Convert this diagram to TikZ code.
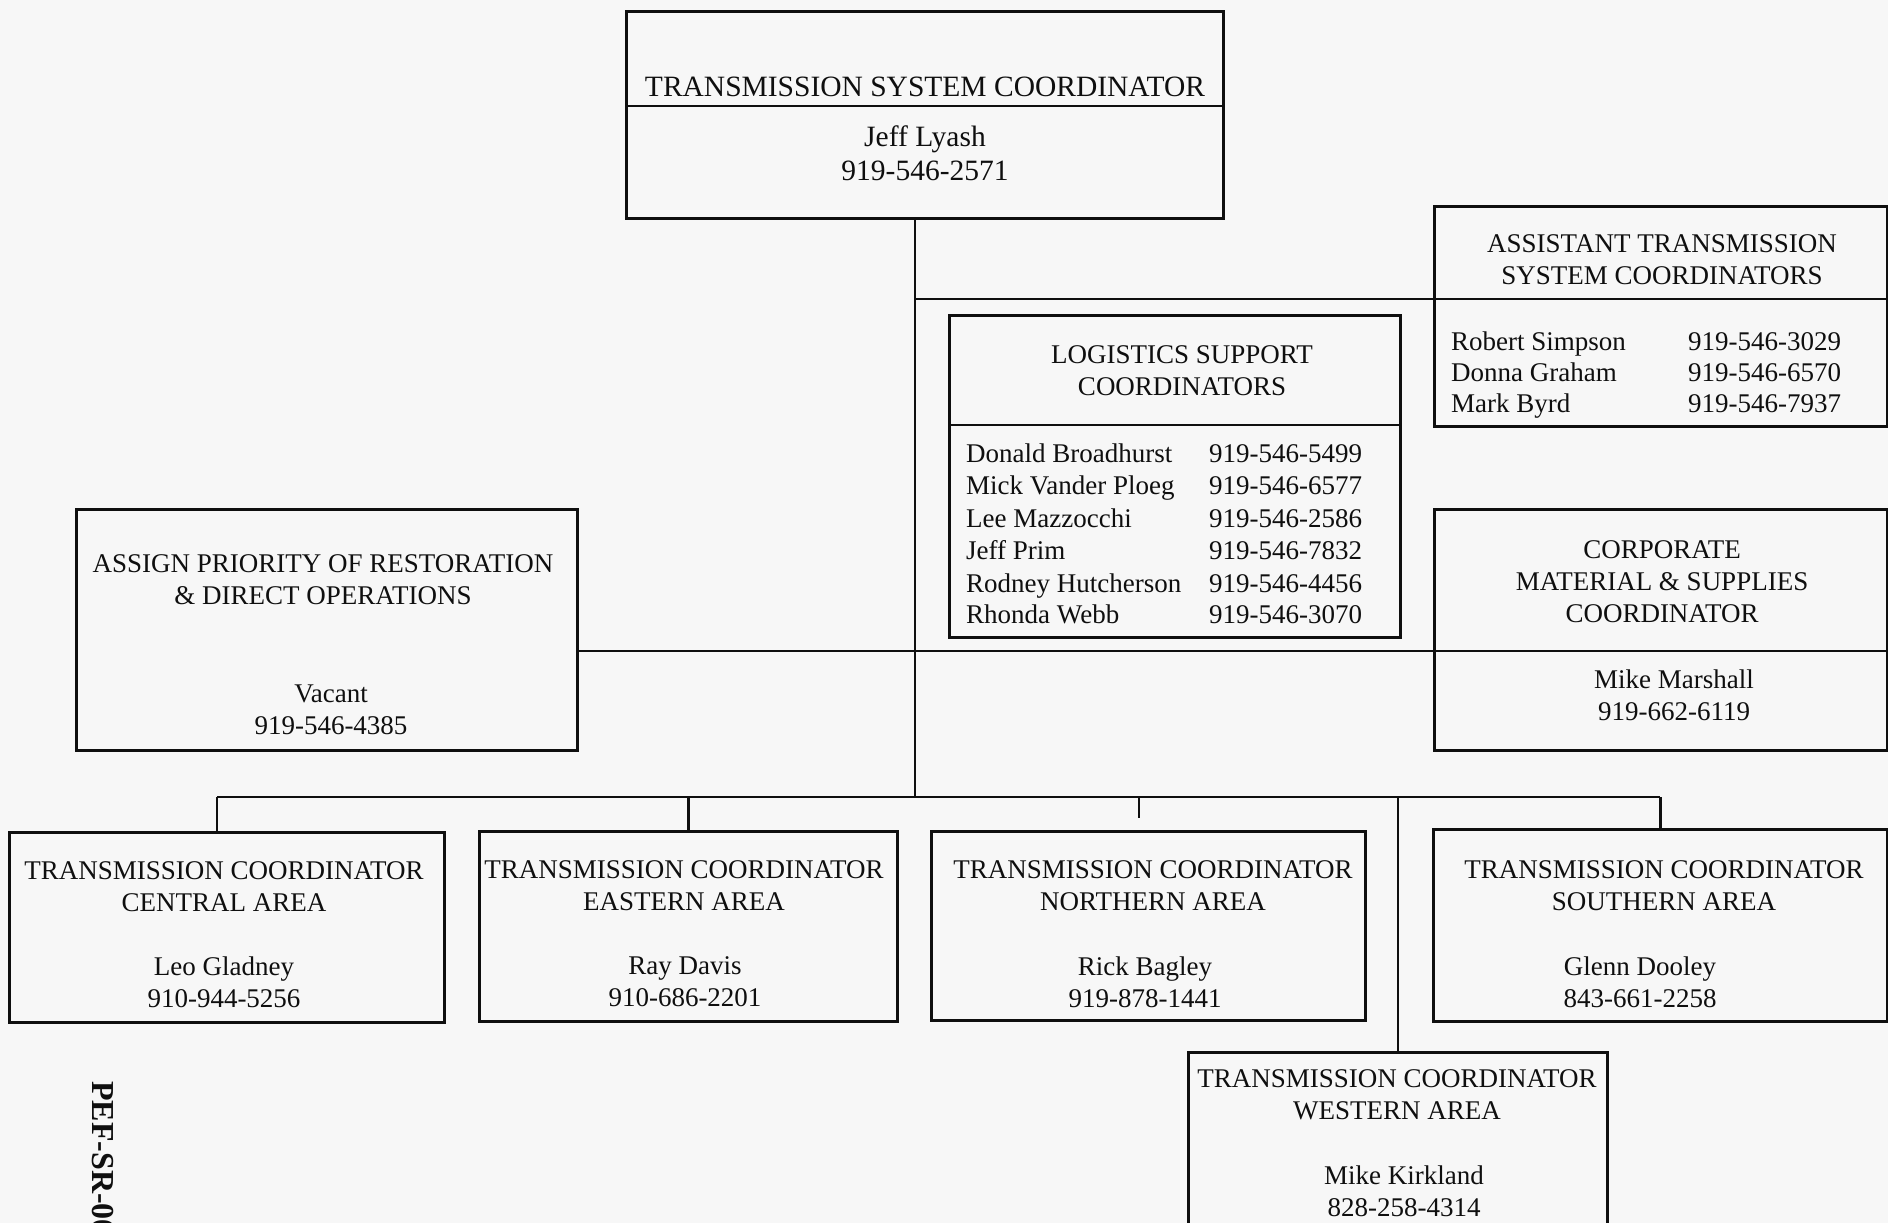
\documentclass[tikz,border=0pt]{standalone}
\usepackage{fontspec}
\setmainfont{Liberation Serif}
\usetikzlibrary{calc}
\definecolor{paper}{RGB}{247,247,247}
\definecolor{ink}{RGB}{15,15,15}
\tikzset{
  orgbox/.style={draw=ink, line width=2.6pt, rectangle, inner sep=0pt, anchor=north west},
  caption/.style={text=ink, font=\fontsize{27}{32}\selectfont, align=center, inner sep=0pt},
  bigcaption/.style={caption, font=\fontsize{29.5}{34}\selectfont},
  row/.style={text=ink, font=\fontsize{27}{32}\selectfont, inner sep=0pt, anchor=mid west},
  link/.style={draw=ink, line width=2.4pt},
}
\begin{document}
\begin{tikzpicture}[x=1pt,y=-1pt]
  % page
  \fill[paper] (0,0) rectangle (1888,1223);
  \useasboundingbox (0,0) rectangle (1888,1223);

  % boxes
  \node[orgbox, minimum width=597pt, minimum height=207pt] (top)      at (625,10)   {};
  \node[orgbox, minimum width=453pt, minimum height=220pt] (assist)   at (1433,205) {};
  \node[orgbox, minimum width=451pt, minimum height=322pt] (logi)     at (948,314)  {};
  \node[orgbox, minimum width=501pt, minimum height=241pt] (assign)   at (75,508)   {};
  \node[orgbox, minimum width=453pt, minimum height=241pt] (corp)     at (1433,508) {};
  \node[orgbox, minimum width=435pt, minimum height=190pt] (central)  at (8,831)    {};
  \node[orgbox, minimum width=418pt, minimum height=190pt] (eastern)  at (478,830)  {};
  \node[orgbox, minimum width=434pt, minimum height=189pt] (northern) at (930,830)  {};
  \node[orgbox, minimum width=454pt, minimum height=192pt] (southern) at (1432,828) {};
  \node[orgbox, minimum width=419pt, minimum height=200pt] (western)  at (1187,1051){};

  % dividers between title and name sections
  \coordinate (top-div)    at ($(top.north west)+(0,96)$);
  \coordinate (assist-div) at ($(assist.north west)+(0,94)$);
  \coordinate (logi-div)   at ($(logi.north west)+(0,111)$);
  \coordinate (corp-div)   at ($(corp.north west)+(0,143)$);
  \draw[link, line width=2.6pt] (top-div) -- (top-div -| top.east);
  \draw[link, line width=2.6pt] (assist-div) -- (assist-div -| assist.east);
  \draw[link, line width=2.6pt] (logi-div) -- (logi-div -| logi.east);
  \draw[link, line width=2.6pt] (corp-div) -- (corp-div -| corp.east);

  % connectors
  \coordinate (trunk) at (915,217);
  \coordinate (bus)   at (915,797);
  \coordinate (drop-c) at (217,797);
  \coordinate (drop-n) at (1139,797);
  \draw[link] (trunk) -- (bus);
  \draw[link] (trunk |- assist-div) -- (assist-div);
  \draw[link] (assign.east |- corp-div) -- (corp-div);
  \draw[link] (drop-c) -- (bus -| southern.north);
  \draw[link] (drop-c) -- (drop-c |- central.north);
  \draw[link] (bus -| eastern.north) -- (eastern.north);
  \draw[link, shorten >=12pt] (drop-n) -- (drop-n |- northern.north);
  \draw[link] (bus -| southern.north) -- (southern.north);
  \draw[link] (bus -| western.north) -- (western.north);

  % top coordinator
  \node[bigcaption] (top-t) at (925,87)  {TRANSMISSION SYSTEM COORDINATOR};
  \node[bigcaption] (top-n) at (925,153) {Jeff Lyash\\919-546-2571};

  % assistants
  \node[caption] (assist-t) at (1662,260) {ASSISTANT TRANSMISSION\\SYSTEM COORDINATORS};
  \node[row] (as1) at (1451,348) {Robert Simpson};
  \node[row] (as2) at (1451,379) {Donna Graham};
  \node[row] (as3) at (1451,410) {Mark Byrd};
  \node[row] (ap1) at (1688,348) {919-546-3029};
  \node[row] (ap2) at (1688,379) {919-546-6570};
  \node[row] (ap3) at (1688,410) {919-546-7937};

  % logistics
  \node[caption] (logi-t) at (1182,371) {LOGISTICS SUPPORT\\COORDINATORS};
  \node[row] (ln1) at (966,460) {Donald Broadhurst};
  \node[row] (ln2) at (966,492) {Mick Vander Ploeg};
  \node[row] (ln3) at (966,525) {Lee Mazzocchi};
  \node[row] (ln4) at (966,557) {Jeff Prim};
  \node[row] (ln5) at (966,590) {Rodney Hutcherson};
  \node[row] (ln6) at (966,621) {Rhonda Webb};
  \node[row] (lp1) at (1209,460) {919-546-5499};
  \node[row] (lp2) at (1209,492) {919-546-6577};
  \node[row] (lp3) at (1209,525) {919-546-2586};
  \node[row] (lp4) at (1209,557) {919-546-7832};
  \node[row] (lp5) at (1209,590) {919-546-4456};
  \node[row] (lp6) at (1209,621) {919-546-3070};

  % restoration priority
  \node[caption] (assign-t) at (323,580) {ASSIGN PRIORITY OF RESTORATION\\\& DIRECT OPERATIONS};
  \node[caption] (assign-n) at (331,710) {Vacant\\919-546-4385};

  % corporate material
  \node[caption] (corp-t) at (1662,582) {CORPORATE\\MATERIAL \& SUPPLIES\\COORDINATOR};
  \node[caption] (corp-n) at (1674,695) {Mike Marshall\\919-662-6119};

  % area coordinators
  \node[caption] (central-t)  at (224,887)  {TRANSMISSION COORDINATOR\\CENTRAL AREA};
  \node[caption] (central-n)  at (224,982)  {Leo Gladney\\910-944-5256};
  \node[caption] (eastern-t)  at (684,886)  {TRANSMISSION COORDINATOR\\EASTERN AREA};
  \node[caption] (eastern-n)  at (685,982)  {Ray Davis\\910-686-2201};
  \node[caption] (northern-t) at (1153,886) {TRANSMISSION COORDINATOR\\NORTHERN AREA};
  \node[caption] (northern-n) at (1145,982) {Rick Bagley\\919-878-1441};
  \node[caption] (southern-t) at (1664,886) {TRANSMISSION COORDINATOR\\SOUTHERN AREA};
  \node[caption] (southern-n) at (1640,982) {Glenn Dooley\\843-661-2258};
  \node[caption] (western-t)  at (1397,1095){TRANSMISSION COORDINATOR\\WESTERN AREA};
  \node[caption] (western-n)  at (1404,1191){Mike Kirkland\\828-258-4314};

  % document number along the left margin
  \node[text=ink, font=\fontsize{32}{36}\selectfont\bfseries, inner sep=0pt, rotate=-90, anchor=west] (docno) at (103,1081) {PEF-SR-00};
\end{tikzpicture}
\end{document}
